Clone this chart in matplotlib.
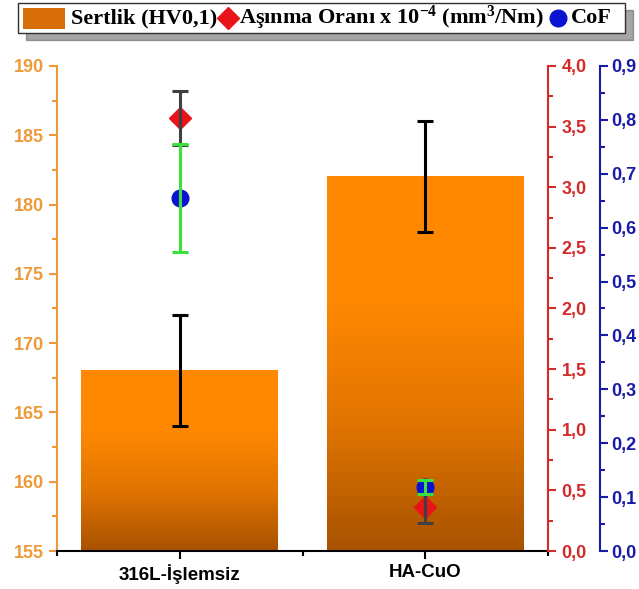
import numpy as np
import matplotlib.pyplot as plt
from matplotlib.ticker import MultipleLocator, FuncFormatter
from matplotlib.lines import Line2D
from matplotlib.patches import Rectangle, Shadow
from matplotlib.colors import LinearSegmentedColormap

# data
kategoriler = ['316L-İşlemsiz', 'HA-CuO']
sertlik = [168, 182]
sertlik_hata = [4, 4]
asinma = [3.57, 0.36]
asinma_hata = [0.22, 0.13]
cof = [0.655, 0.119]
cof_hata = [0.1, 0.013]

turuncu = '#EE9A3A'
kirmizi = '#D42A2A'
mavi = '#1A1AA8'

plt.rcParams['font.family'] = ['Liberation Sans', 'DejaVu Sans']
plt.rcParams['mathtext.fontset'] = 'custom'
plt.rcParams['mathtext.rm'] = 'Liberation Serif:bold'
plt.rcParams['mathtext.bf'] = 'Liberation Serif:bold'
plt.rcParams['mathtext.it'] = 'Liberation Serif:bold'

W, H = 639, 589
fig = plt.figure(figsize=(W / 100, H / 100), dpi=100)
ax = fig.add_axes([0.089, 0.0645, 0.769, 0.8235])
x = np.arange(len(kategoriler))

# gradient bars
cmap = LinearSegmentedColormap.from_list('bar', ['#A85200', '#E07400', '#FF8800', '#FF8800'])
grad = np.linspace(0, 1, 256).reshape(-1, 1)
genislik = 0.8
for xi, h in zip(x, sertlik):
    ax.imshow(grad, cmap=cmap, origin='lower', aspect='auto',
              extent=[xi - genislik / 2, xi + genislik / 2, 155, h], zorder=1)
ax.errorbar(x, sertlik, yerr=sertlik_hata, fmt='none', ecolor='black',
            elinewidth=2.2, capsize=6, capthick=2.2, zorder=3)

ax.set_xlim(-0.5, 1.5)
ax.set_ylim(155, 190)
ax.set_xticks(x)
ax.set_xticklabels(kategoriler, fontsize=13.5, fontweight='bold')
ax.xaxis.set_minor_locator(MultipleLocator(0.5))
ax.yaxis.set_major_locator(MultipleLocator(5))
ax.yaxis.set_minor_locator(MultipleLocator(2.5))
ax.tick_params(axis='y', colors=turuncu, labelsize=13, width=1.5, length=6)
ax.tick_params(axis='y', which='minor', colors=turuncu, width=1.5, length=3.5)
ax.tick_params(axis='x', width=1.5, length=6)
ax.tick_params(axis='x', which='minor', width=1.5, length=3.5)
for lab in ax.get_yticklabels():
    lab.set_fontweight('bold')
ax.spines['left'].set_color(turuncu)
ax.spines['left'].set_linewidth(1.5)
ax.spines['bottom'].set_linewidth(1.5)
ax.spines['top'].set_visible(False)
ax.spines['right'].set_visible(False)

virgul = FuncFormatter(lambda v, p: f'{v:.1f}'.replace('.', ','))

# wear rate axis
ax2 = ax.twinx()
ax2.set_ylim(0, 4.0)
ax2.plot(x, asinma, linestyle='none', marker='D', markersize=11, color='#E8141A', zorder=2)
ax2.errorbar(x, asinma, yerr=asinma_hata, fmt='none', ecolor='#404040',
             elinewidth=2.2, capsize=6, capthick=2.2, zorder=3)
ax2.yaxis.set_major_locator(MultipleLocator(0.5))
ax2.yaxis.set_minor_locator(MultipleLocator(0.25))
ax2.yaxis.set_major_formatter(virgul)
ax2.tick_params(axis='y', colors=kirmizi, labelsize=13, width=1.5, length=6)
ax2.tick_params(axis='y', which='minor', colors=kirmizi, width=1.5, length=3.5)
for lab in ax2.get_yticklabels():
    lab.set_fontweight('bold')
ax2.spines['right'].set_color(kirmizi)
ax2.spines['right'].set_linewidth(1.5)
for s in ['top', 'left', 'bottom']:
    ax2.spines[s].set_visible(False)

# CoF axis
ax3 = ax.twinx()
ax3.set_ylim(0, 0.9)
ax3.spines['right'].set_position(('outward', 37))
ax3.plot(x, cof, linestyle='none', marker='o', markersize=12, color='#0A14D0', zorder=2)
ax3.errorbar(x, cof, yerr=cof_hata, fmt='none', ecolor='#3CE03C',
             elinewidth=2.2, capsize=6, capthick=2.2, zorder=3)
ax3.yaxis.set_major_locator(MultipleLocator(0.1))
ax3.yaxis.set_minor_locator(MultipleLocator(0.05))
ax3.yaxis.set_major_formatter(virgul)
ax3.tick_params(axis='y', colors=mavi, labelsize=13, width=1.5, length=6, pad=2)
ax3.tick_params(axis='y', which='minor', colors=mavi, width=1.5, length=3.5)
for lab in ax3.get_yticklabels():
    lab.set_fontweight('bold')
ax3.spines['right'].set_color(mavi)
ax3.spines['right'].set_linewidth(1.5)
for s in ['top', 'left', 'bottom']:
    ax3.spines[s].set_visible(False)

# legend box drawn by hand (handle widths differ per entry)
def fx(px):
    return px / W

def fy(py):
    return 1 - py / H

kutu = Rectangle((fx(18), fy(33)), fx(607), 30 / H, transform=fig.transFigure,
                 facecolor='white', edgecolor='#303030', linewidth=1.0, zorder=5)
fig.add_artist(Shadow(kutu, 6 / W, -5 / H, zorder=4))
fig.add_artist(kutu)
fig.add_artist(Rectangle((fx(23), fy(29)), fx(42), 21 / H, transform=fig.transFigure,
                         facecolor='#D86E08', edgecolor='none', zorder=6))
fig.add_artist(Line2D([fx(228)], [fy(18)], transform=fig.transFigure, linestyle='none',
                      marker='D', markersize=11, color='#E8141A', zorder=6))
fig.add_artist(Line2D([fx(558)], [fy(18)], transform=fig.transFigure, linestyle='none',
                      marker='o', markersize=12, color='#0A14D0', zorder=6))
yazi = dict(family='Liberation Serif', weight='bold', fontsize=16, va='center', ha='left', zorder=6)
fig.text(fx(71), fy(18), 'Sertlik (HV0,1)', **yazi)
fig.text(fx(239), fy(18), 'Aşınma Oranı x 10$^{-4}$ (mm$^{3}$/Nm)', **yazi)
fig.text(fx(571), fy(18), 'CoF', **yazi)

fig.savefig('out.png', dpi=100)
